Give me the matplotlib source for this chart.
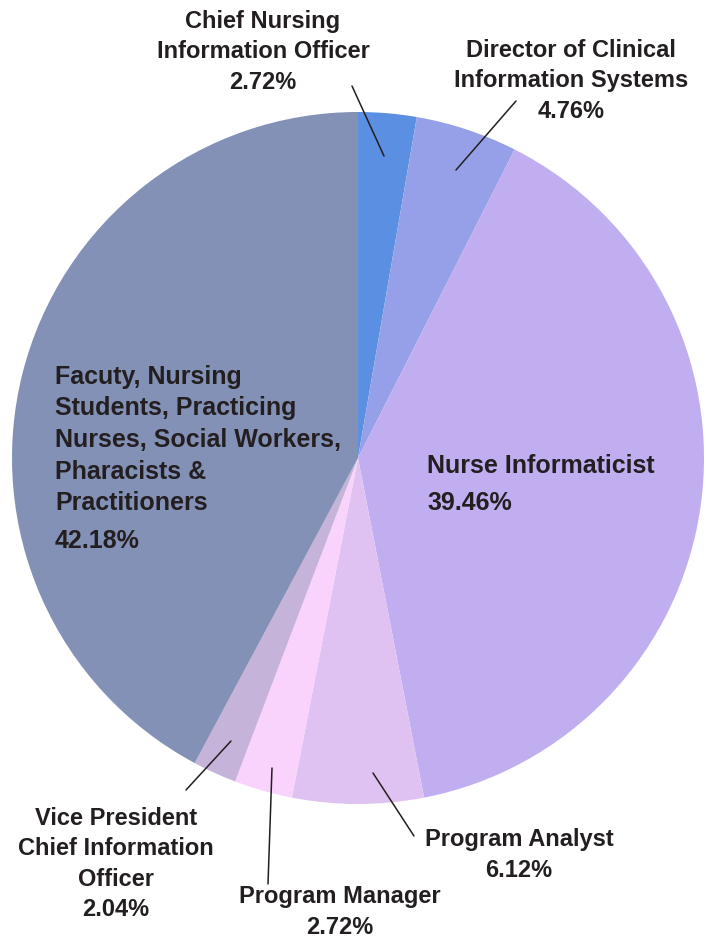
import matplotlib.pyplot as plt

plt.rcParams['font.family'] = ['Liberation Sans', 'DejaVu Sans']

roles = ["Chief Nursing\nInformation Officer",
         "Director of Clinical\nInformation Systems",
         "Nurse Informaticist",
         "Program Analyst",
         "Program Manager",
         "Vice President\nChief Information\nOfficer",
         "Facuty, Nursing\nStudents, Practicing\nNurses, Social Workers,\nPharacists &\nPractitioners"]
shares = [2.72, 4.76, 39.46, 6.12, 2.72, 2.04, 42.18]
colors = ["#5a8fe1", "#96a0e8", "#c1aef1", "#e0c2f2", "#f9d3fb", "#c5b3da", "#8391b6"]

W, H = 711, 939
cx, cy, r = 358, 458, 346

fig = plt.figure(figsize=(W / 100, H / 100), dpi=100)
ax = fig.add_axes([(cx - r) / W, (H - cy - r) / H, 2 * r / W, 2 * r / H])
ax.pie(shares, colors=colors, startangle=90, counterclock=False, radius=1,
       wedgeprops=dict(linewidth=0))
ax.set_xlim(-1, 1)
ax.set_ylim(-1, 1)
ax.set_aspect('equal')
ax.axis('off')


def d(px, py):
    return ((px - cx) / r, (cy - py) / r)


txt = dict(fontweight='bold', color='#231f20', annotation_clip=False)

# outside labels with leader lines: (index, text centre, line start in slice, line end near text)
outside = [
    (0, (263, 52), (384, 156), (352, 86)),
    (1, (571, 81), (456, 170), (516, 101)),
    (3, (519, 855), (373, 773), (414, 836)),
    (4, (340, 912), (272, 768), (268, 884)),
    (5, (116, 864), (231, 741), (186, 790)),
]
for i, tpos, p0, p1 in outside:
    label = roles[i] + "\n" + f"{shares[i]:.2f}%"
    ax.annotate("", xy=d(*p0), xytext=d(*p1),
                arrowprops=dict(arrowstyle='-', color='#231f20', lw=1.1,
                                shrinkA=0, shrinkB=0), annotation_clip=False)
    ax.annotate(label, xy=d(*tpos), ha='center', va='center', linespacing=1.42,
                fontsize=17, **txt)

# labels inside the two large slices
ax.annotate(roles[2], xy=d(427, 466), ha='left', va='center', fontsize=18, **txt)
ax.annotate(f"{shares[2]:.2f}%", xy=d(427, 503), ha='left', va='center', fontsize=18, **txt)
ax.annotate(roles[6], xy=d(55, 440), ha='left', va='center', linespacing=1.4,
            fontsize=18, **txt)
ax.annotate(f"{shares[6]:.2f}%", xy=d(55, 541), ha='left', va='center', fontsize=18, **txt)

fig.savefig("out.png", dpi=100)
